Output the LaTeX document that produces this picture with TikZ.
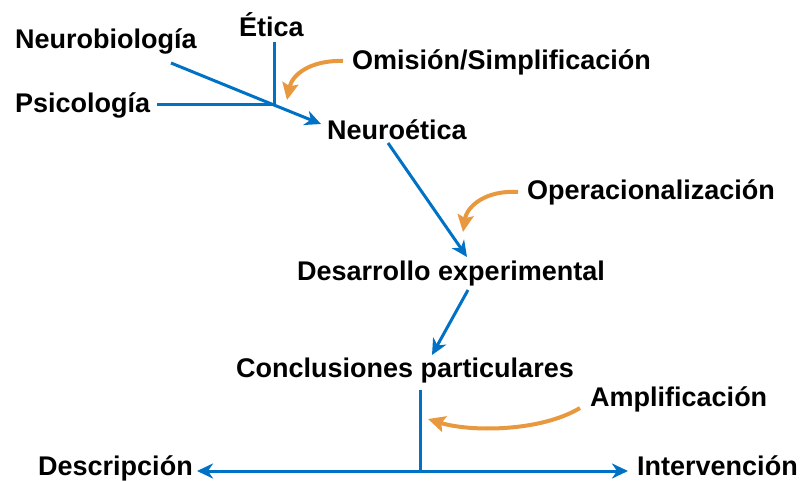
\documentclass[tikz,border=0pt]{standalone}
\usepackage{fontspec}
\setmainfont{Liberation Sans}
\usetikzlibrary{arrows.meta}
\usetikzlibrary{positioning}
\definecolor{azul}{RGB}{0,114,198}
\definecolor{naranja}{RGB}{232,152,62}
\tikzset{every node/.style={font=\fontsize{27}{32}\selectfont\bfseries,inner sep=0pt,anchor=base west},
linea/.style={azul,line width=3pt},
flecha/.style={linea,-{Stealth[length=16pt,width=15pt,inset=5pt]}},
curva/.style={naranja,line width=4pt,-{Stealth[length=17pt,width=16pt,inset=3pt]}}}

\begin{document}
\begin{tikzpicture}[x=1pt,y=-1pt]
\useasboundingbox (0,0) rectangle (801,481);
\node (nb) at (15,49) {Neurobiología};
\node (etica) at (239,37) {Ética};
\node (psico) at (15,113) {Psicología};
\node (omision) at (352,70) {Omisión/Simplificación};
\node (neuroet) at (327,140) {Neuroética};
\node (operac) at (527,200) {Operacionalización};
\node (desarr) at (297,280) {Desarrollo experimental};
\node (concl) at (236,377) {Conclusiones particulares};
\node (amplif) at (590,406) {Amplificación};
\node (descr) at (38,475) {Descripción};
\node (interv) at (637,475) {Intervención};
\coordinate (nb-e) at (171,63);
\coordinate (eti-s) at (274,42);
\coordinate (psi-e) at (157,105);
\coordinate (jn) at (274,105);
\coordinate (ne-w) at (321,124);
\coordinate (ne-s) at (388,143);
\coordinate (de-n) at (467,257);
\coordinate (de-s) at (468,290);
\coordinate (co-n) at (432,355);
\coordinate (co-s) at (420,390);
\coordinate (jb) at (420,471);
\coordinate (dc-e) at (197,471);
\coordinate (iv-w) at (628,471);
\coordinate (om-w) at (343,61);
\coordinate (om-t) at (287,100);
\coordinate (op-w) at (518,192);
\coordinate (op-t) at (463,232);
\coordinate (am-w) at (580,408);
\coordinate (am-t) at (428,419);
\draw[linea] (eti-s) -- (jn);
\draw[linea] (psi-e) -- (jn);
\draw[flecha] (nb-e) -- (jn) -- (ne-w);
\draw[flecha] (ne-s) -- (de-n);
\draw[flecha] (de-s) -- (co-n);
\draw[linea] (co-s) -- (jb);
\draw[flecha] (jb) -- (dc-e);
\draw[flecha] (jb) -- (iv-w);
\draw[curva] (om-w) .. controls (310,60) and (292,75) .. (om-t);
\draw[curva] (op-w) .. controls (486,190) and (467,206) .. (op-t);
\draw[curva] (am-w) .. controls (540,432) and (470,432) .. (am-t);
\end{tikzpicture}
\end{document}
